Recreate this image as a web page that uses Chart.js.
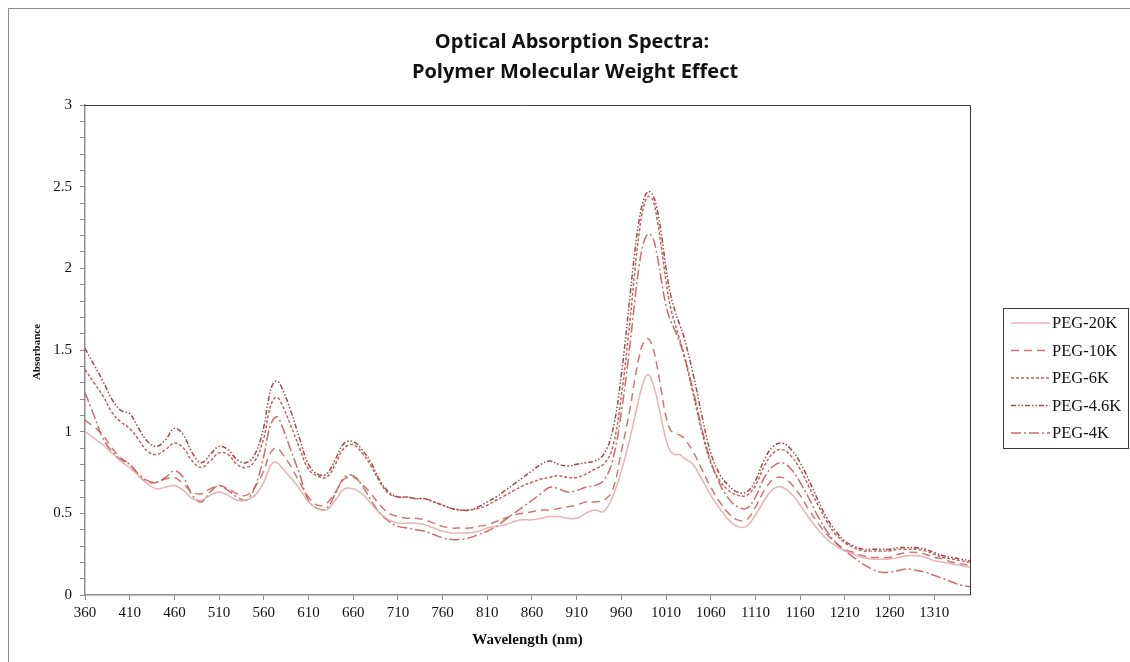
<!DOCTYPE html>
<html>
<head>
<meta charset="utf-8">
<title>Optical Absorption Spectra</title>
<script src="https://cdn.jsdelivr.net/npm/chart.js@4/dist/chart.umd.min.js"></script>
<style>
  html, body { margin: 0; padding: 0; background: #fff; }
  #wrap { width: 1130px; height: 662px; position: relative; }
</style>
</head>
<body>
<div id="wrap"><canvas id="c" width="1130" height="662"></canvas></div>
<script>
// Wavelength grid (nm)
const wavelengths = [360,370,380,390,400,410,420,430,440,450,460,470,480,490,500,510,520,530,540,550,560,565,570,575,580,590,600,610,620,630,640,650,660,670,680,690,700,710,720,730,740,750,760,770,780,790,800,810,820,830,840,850,860,870,880,890,900,910,920,930,940,950,960,970,975,980,985,990,995,1000,1005,1010,1015,1020,1025,1030,1040,1050,1060,1070,1080,1090,1100,1110,1120,1130,1140,1150,1160,1170,1180,1190,1200,1210,1220,1230,1240,1250,1260,1270,1280,1290,1300,1310,1320,1330,1340,1350];

// Absorbance per polymer molecular weight
const peg20k = [1.00,0.96,0.92,0.87,0.82,0.78,0.73,0.68,0.65,0.66,0.67,0.64,0.59,0.58,0.61,0.63,0.61,0.58,0.58,0.61,0.69,0.76,0.81,0.81,0.78,0.72,0.65,0.57,0.53,0.52,0.58,0.65,0.65,0.62,0.56,0.50,0.46,0.44,0.44,0.44,0.43,0.41,0.39,0.38,0.38,0.38,0.39,0.41,0.42,0.43,0.45,0.46,0.46,0.47,0.48,0.48,0.47,0.47,0.50,0.52,0.51,0.60,0.76,0.97,1.09,1.21,1.31,1.35,1.30,1.20,1.07,0.95,0.88,0.86,0.86,0.84,0.80,0.71,0.61,0.53,0.46,0.42,0.42,0.49,0.58,0.65,0.66,0.62,0.55,0.47,0.40,0.34,0.30,0.27,0.25,0.23,0.22,0.22,0.22,0.23,0.24,0.24,0.23,0.21,0.20,0.19,0.18,0.17];
const peg10k = [1.07,1.03,0.98,0.90,0.84,0.80,0.73,0.69,0.69,0.71,0.72,0.68,0.63,0.62,0.65,0.67,0.65,0.62,0.61,0.66,0.76,0.84,0.89,0.90,0.87,0.79,0.69,0.60,0.55,0.56,0.63,0.71,0.72,0.68,0.62,0.55,0.50,0.48,0.47,0.47,0.46,0.44,0.42,0.41,0.41,0.41,0.42,0.43,0.45,0.47,0.49,0.50,0.51,0.52,0.52,0.53,0.54,0.55,0.57,0.57,0.58,0.64,0.88,1.15,1.32,1.46,1.55,1.57,1.52,1.40,1.24,1.09,1.01,0.99,0.98,0.96,0.88,0.77,0.66,0.57,0.50,0.46,0.46,0.54,0.64,0.71,0.72,0.68,0.61,0.52,0.44,0.37,0.32,0.28,0.26,0.24,0.23,0.23,0.23,0.25,0.26,0.26,0.25,0.23,0.22,0.20,0.19,0.18];
const peg6k = [1.38,1.30,1.22,1.12,1.06,1.02,0.95,0.88,0.86,0.89,0.93,0.90,0.82,0.78,0.82,0.87,0.86,0.80,0.78,0.82,0.96,1.10,1.19,1.21,1.17,1.04,0.90,0.77,0.73,0.72,0.80,0.90,0.92,0.87,0.79,0.69,0.62,0.60,0.60,0.59,0.59,0.57,0.55,0.53,0.52,0.52,0.53,0.55,0.58,0.61,0.64,0.67,0.69,0.71,0.72,0.73,0.72,0.72,0.74,0.77,0.80,0.90,1.22,1.70,1.98,2.22,2.38,2.44,2.42,2.30,2.12,1.92,1.76,1.66,1.57,1.47,1.24,1.00,0.81,0.70,0.64,0.61,0.61,0.67,0.79,0.87,0.89,0.85,0.77,0.66,0.55,0.45,0.37,0.32,0.29,0.27,0.27,0.27,0.27,0.28,0.28,0.28,0.27,0.25,0.23,0.22,0.21,0.20];
const peg46k = [1.51,1.41,1.31,1.20,1.13,1.11,1.02,0.94,0.91,0.95,1.02,0.98,0.87,0.81,0.86,0.91,0.89,0.83,0.81,0.86,1.03,1.19,1.29,1.31,1.27,1.13,0.96,0.80,0.74,0.74,0.83,0.93,0.94,0.89,0.81,0.70,0.63,0.60,0.60,0.59,0.59,0.57,0.55,0.53,0.52,0.52,0.54,0.57,0.60,0.64,0.68,0.72,0.76,0.80,0.82,0.80,0.79,0.80,0.81,0.82,0.86,1.00,1.35,1.85,2.10,2.30,2.42,2.47,2.45,2.36,2.20,2.00,1.84,1.74,1.66,1.58,1.36,1.10,0.87,0.74,0.67,0.63,0.63,0.70,0.83,0.91,0.93,0.89,0.81,0.70,0.58,0.47,0.39,0.33,0.30,0.28,0.28,0.28,0.28,0.29,0.29,0.29,0.28,0.26,0.24,0.23,0.22,0.21];
const peg4k = [1.24,1.10,0.96,0.88,0.83,0.80,0.74,0.70,0.69,0.72,0.76,0.72,0.61,0.57,0.63,0.67,0.64,0.60,0.58,0.66,0.85,0.99,1.07,1.09,1.04,0.89,0.74,0.58,0.53,0.53,0.62,0.72,0.73,0.67,0.58,0.50,0.45,0.42,0.41,0.40,0.39,0.37,0.35,0.34,0.34,0.35,0.37,0.39,0.42,0.46,0.50,0.54,0.58,0.62,0.66,0.65,0.63,0.64,0.66,0.67,0.70,0.82,1.12,1.55,1.80,2.02,2.16,2.21,2.19,2.08,1.92,1.77,1.68,1.62,1.55,1.47,1.26,1.02,0.82,0.68,0.59,0.54,0.53,0.60,0.72,0.79,0.81,0.77,0.69,0.59,0.48,0.39,0.32,0.27,0.23,0.19,0.16,0.14,0.14,0.15,0.16,0.15,0.14,0.12,0.10,0.08,0.06,0.05];

// Axis tick labels
const xTickValues = [360,410,460,510,560,610,660,710,760,810,860,910,960,1010,1060,1110,1160,1210,1260,1310];
const yTickLabels = [0,0.5,1,1.5,2,2.5,3];

const seriesNames = ['PEG-20K','PEG-10K','PEG-6K','PEG-4.6K','PEG-4K'];
const seriesValues = [peg20k, peg10k, peg6k, peg46k, peg4k];
const seriesColors = ['rgba(226,172,171,0.9)','rgba(200,95,92,0.85)','rgba(192,80,77,0.9)','rgba(150,55,53,0.9)','rgba(196,82,79,0.85)'];
const seriesDash = [[], [8,5], [3,2], [5,2,1.5,2,1.5,2], [10,3,2,3]];

const toPoints = vals => wavelengths.map((w, i) => ({ x: w, y: vals[i] }));

const PLOT = { left: 85, right: 970, top: 105, bottom: 595 };

const decorations = {
  id: 'decorations',
  beforeDraw(chart) {
    const ctx = chart.ctx;
    ctx.save();
    ctx.fillStyle = '#fff';
    ctx.fillRect(0, 0, chart.width, chart.height);
    ctx.restore();
  },
  afterDraw(chart) {
    const ctx = chart.ctx;
    const a = chart.chartArea;
    ctx.save();
    // outer frame
    ctx.strokeStyle = '#8c8c8c';
    ctx.lineWidth = 1;
    ctx.strokeRect(8.5, 8.5, 1130, 670);
    // plot box: top and right edges
    ctx.strokeStyle = '#3a3a3a';
    ctx.beginPath();
    ctx.moveTo(a.left, a.top + 0.5);
    ctx.lineTo(a.right + 0.5, a.top + 0.5);
    ctx.lineTo(a.right + 0.5, a.bottom);
    ctx.stroke();

    // title
    ctx.fillStyle = '#111';
    ctx.textAlign = 'center';
    ctx.textBaseline = 'middle';
    ctx.font = 'bold 20px "Open Sans", Lato, sans-serif';
    ctx.fillText('Optical Absorption Spectra:', 572, 42);
    ctx.fillText('Polymer Molecular Weight Effect', 575, 72);

    // axis titles
    ctx.font = 'bold 15px "Liberation Serif", "Times New Roman", serif';
    ctx.fillText('Wavelength (nm)', (a.left + a.right) / 2, 640);
    ctx.save();
    ctx.translate(37, 352);
    ctx.rotate(-Math.PI / 2);
    ctx.font = 'bold 11px "Liberation Serif", "Times New Roman", serif';
    ctx.fillText('Absorbance', 0, 0);
    ctx.restore();

    // legend
    const lx = 1003.5, ly = 308.5, lw = 125, lh = 140;
    ctx.fillStyle = '#fff';
    ctx.fillRect(lx, ly, lw, lh);
    ctx.strokeStyle = '#3a3a3a';
    ctx.lineWidth = 1;
    ctx.strokeRect(lx, ly, lw, lh);
    ctx.textAlign = 'left';
    ctx.font = '16.5px "Liberation Serif", "Times New Roman", serif';
    chart.data.datasets.forEach((ds, i) => {
      const y = 323 + i * 27.5;
      ctx.strokeStyle = ds.borderColor;
      ctx.lineWidth = 1.5;
      ctx.setLineDash(ds.borderDash || []);
      ctx.beginPath();
      ctx.moveTo(1011, y);
      ctx.lineTo(1050, y);
      ctx.stroke();
      ctx.setLineDash([]);
      ctx.fillStyle = '#111';
      ctx.fillText(ds.label, 1052, y + 1);
    });
    ctx.restore();
  }
};

new Chart(document.getElementById('c'), {
  type: 'line',
  data: {
    datasets: seriesNames.map((name, i) => ({
      label: name,
      data: toPoints(seriesValues[i]),
      borderColor: seriesColors[i],
      backgroundColor: seriesColors[i],
      borderDash: seriesDash[i],
      borderWidth: 1.5,
      pointRadius: 0,
      tension: 0.4,
      fill: false
    }))
  },
  options: {
    responsive: false,
    animation: false,
    events: [],
    layout: { padding: { left: 0, right: 1130 - PLOT.right, top: PLOT.top, bottom: 0 } },
    plugins: { legend: { display: false }, title: { display: false }, tooltip: { enabled: false } },
    scales: {
      x: {
        type: 'linear',
        min: 360,
        max: 1350,
        afterBuildTicks(scale) { scale.ticks = xTickValues.map(v => ({ value: v })); },
        afterFit(scale) { scale.height = 662 - PLOT.bottom; },
        border: { display: true, color: '#8c8c8c', width: 1.5 },
        grid: { drawOnChartArea: false, drawTicks: true, tickLength: 5, color: '#8c8c8c' },
        ticks: {
          autoSkip: false,
          maxRotation: 0,
          padding: 4,
          color: '#111',
          font: { family: '"Liberation Serif", "Times New Roman", serif', size: 15 },
          callback: v => String(v)
        }
      },
      y: {
        min: 0,
        max: 3,
        afterFit(scale) { scale.width = PLOT.left; },
        border: { display: true, color: '#8c8c8c', width: 1.5 },
        grid: { drawOnChartArea: false, drawTicks: true, tickLength: 5, color: '#8c8c8c' },
        ticks: {
          stepSize: 0.1,
          autoSkip: false,
          padding: 8,
          color: '#111',
          font: { family: '"Liberation Serif", "Times New Roman", serif', size: 15 },
          callback: v => {
            const hit = yTickLabels.find(t => Math.abs(t - v) < 1e-6);
            return hit === undefined ? '' : String(hit);
          }
        }
      }
    }
  },
  plugins: [decorations]
});
</script>
</body>
</html>
